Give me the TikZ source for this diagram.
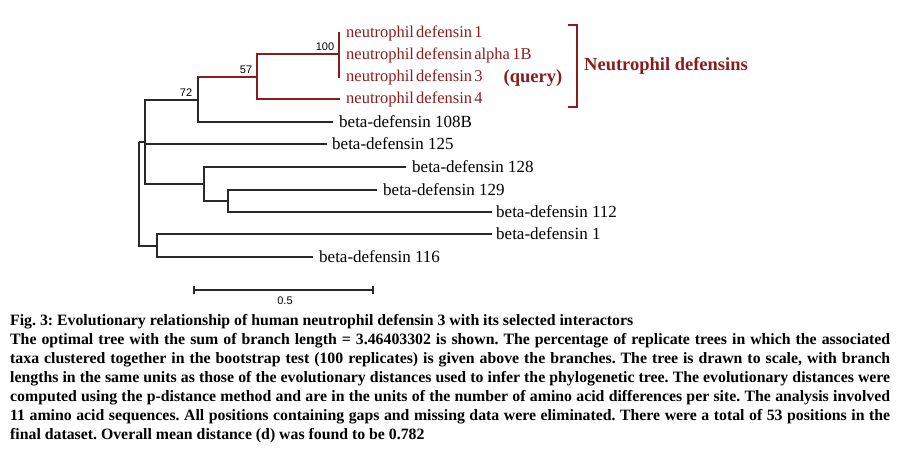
\documentclass[tikz,border=0pt]{standalone}
\usepackage{fontspec}
\setmainfont{Liberation Serif}
\newfontfamily\arialfont{Liberation Sans}
\definecolor{ndred}{RGB}{140,28,28}
\definecolor{treegray}{RGB}{40,40,40}
\newcommand\myleaffont{\fontsize{17}{19}\selectfont}
\newcommand\myredfont{\fontsize{16.5}{19}\selectfont\spaceskip=2.2pt plus 1pt minus 0.5pt\relax}
\begin{document}
\begin{tikzpicture}[x=1pt,y=-1pt,
  branch/.style={draw=treegray, line width=1.1pt},
  redbranch/.style={draw=ndred, line width=1.1pt},
  leaf/.style={anchor=west, inner sep=0pt, font=\myleaffont},
  redleaf/.style={anchor=west, inner sep=0pt, text=ndred, font=\myredfont},
  boot/.style={inner sep=0pt, font=\arialfont\fontsize{11}{13}\selectfont},
  boldred/.style={inner sep=0pt, text=ndred, font=\bfseries\fontsize{18.5}{21}\selectfont}
]
\useasboundingbox (0,0) rectangle (918,456);
% internal nodes
\coordinate (root) at (139,142);
\coordinate (nA) at (145,142);
\coordinate (n72) at (198,100);
\coordinate (n57) at (257,77);
\coordinate (n100) at (339,54);
\coordinate (nB) at (204,184);
\coordinate (nC) at (228,201);
\coordinate (nD) at (157,246);
% tips
\coordinate (t1) at (340,33);
\coordinate (tA) at (340,55);
\coordinate (t3) at (340,77);
\coordinate (t4) at (340,99);
\coordinate (t108) at (333,122);
\coordinate (t125) at (327,144);
\coordinate (t128) at (406,167);
\coordinate (t129) at (377,190);
\coordinate (t112) at (492,212);
\coordinate (tb1) at (492,234);
\coordinate (t116) at (313,257);
% branches
\draw[branch] (root) |- (nA);
\draw[branch] (root) |- (nD);
\draw[branch] (nA) |- (n72);
\draw[branch] (nA) |- (t125);
\draw[branch] (nA) |- (nB);
\draw[branch] (n72) |- (n57);
\draw[redbranch] (n57 -| n72) -- (n57);
\draw[branch] (n72) |- (t108);
\draw[redbranch] (n57) |- (n100);
\draw[redbranch] (n57) |- (t4);
\draw[redbranch] (n100) |- (t1);
\draw[redbranch] (n100) |- (tA);
\draw[redbranch] (n100) |- (t3);
\draw[branch] (nB) |- (t128);
\draw[branch] (nB) |- (nC);
\draw[branch] (nC) |- (t129);
\draw[branch] (nC) |- (t112);
\draw[branch] (nD) |- (tb1);
\draw[branch] (nD) |- (t116);
% leaf labels
\node[redleaf] (L1) at ([xshift=6pt]t1) {neutrophil defensin 1};
\node[redleaf] (LA) at ([xshift=6pt]tA) {neutrophil defensin alpha 1B};
\node[redleaf] (L3) at ([xshift=6pt]t3) {neutrophil defensin 3};
\node[redleaf] (L4) at ([xshift=6pt]t4) {neutrophil defensin 4};
\node[leaf] (L108) at ([xshift=6pt]t108) {beta-defensin 108B};
\node[leaf] (L125) at ([xshift=5pt]t125) {beta-defensin 125};
\node[leaf] (L128) at ([xshift=6pt]t128) {beta-defensin 128};
\node[leaf] (L129) at ([xshift=6pt]t129) {beta-defensin 129};
\node[leaf] (L112) at ([xshift=4pt]t112) {beta-defensin 112};
\node[leaf] (Lb1) at ([xshift=4pt]tb1) {beta-defensin 1};
\node[leaf] (L116) at ([xshift=6pt]t116) {beta-defensin 116};
% bootstrap values
\node[boot] (B100) at (325,47) {100};
\node[boot] (B57) at (246,70) {57};
\node[boot] (B72) at (186,93) {72};
% bracket and group label
\coordinate (brT) at (577,25);
\coordinate (brB) at (577,107);
\draw[redbranch] ([xshift=-9pt]brT) -- (brT) -- (brB) -- ([xshift=-9pt]brB);
\node[boldred] (query) at (533,78) {(query)};
\node[boldred, anchor=west] (grp) at (584,66) {Neutrophil defensins};
% scale bar
\coordinate (sL) at (194,290);
\coordinate (sR) at (373,290);
\draw[branch] (sL) -- (sR);
\draw[branch] ([yshift=-4pt]sL) -- ([yshift=4pt]sL);
\draw[branch] ([yshift=-4pt]sR) -- ([yshift=4pt]sR);
\node[boot] (sc) at (285,301) {0.5};
% caption
\node[anchor=north west, inner sep=0pt, text width=880pt, align=justify,
  font=\bfseries\fontsize{15.8}{19}\selectfont] (cap) at (10,314) {%
\frenchspacing\hyphenpenalty=10000\emergencystretch=20pt
Fig. 3: Evolutionary relationship of human neutrophil defensin 3 with its selected interactors\par
The optimal tree with the sum of branch length = 3.46403302 is shown. The percentage of replicate trees in which the associated\linebreak
taxa clustered together in the bootstrap test (100 replicates) is given above the branches. The tree is drawn to scale, with branch\linebreak
lengths in the same units as those of the evolutionary distances used to infer the phylogenetic tree. The evolutionary distances were\linebreak
computed using the p-distance method and are in the units of the number of amino acid differences per site. The analysis involved\linebreak
11 amino acid sequences. All positions containing gaps and missing data were eliminated. There were a total of 53 positions in the\linebreak
final dataset. Overall mean distance (d) was found to be 0.782};
\end{tikzpicture}
\end{document}
